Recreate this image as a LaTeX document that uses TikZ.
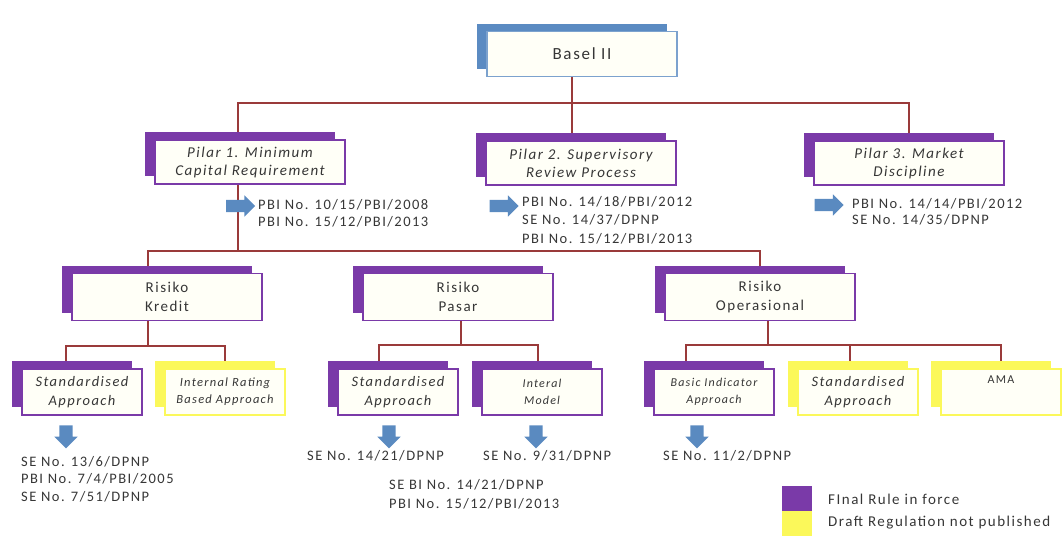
\documentclass[tikz,border=0pt]{standalone}
\usepackage{fontspec}
\setmainfont{Carlito}[LetterSpace=10]
\usetikzlibrary{shadows,shapes.arrows,backgrounds}
\definecolor{finalpurple}{HTML}{7A3AA8}
\definecolor{draftyellow}{HTML}{FBF85A}
\definecolor{baselblue}{HTML}{5B8BC2}
\definecolor{arrowblue}{HTML}{5A8AC0}
\definecolor{linkred}{HTML}{9A3A3A}
\definecolor{boxfill}{HTML}{FFFFF7}
\definecolor{inkgray}{HTML}{363636}
\begin{document}
\begin{tikzpicture}[x=1pt,y=-1pt,
		rulebox/.style={draw=#1, line width=1.6pt, fill=boxfill, align=center, text=inkgray,
			inner sep=0pt, copy shadow={shadow xshift=-10pt, shadow yshift=8pt, fill=#1, draw=none}},
		bigbox/.style={rulebox=#1, minimum width=190pt, minimum height=45pt},
		smallbox/.style={rulebox=#1, minimum width=120pt, minimum height=46pt},
		link/.style={draw=linkred, line width=1.8pt},
		rarrow/.style={single arrow, fill=arrowblue, draw=none, inner sep=6pt,
			minimum height=29pt, minimum width=21pt, single arrow head extend=4.5pt},
		darrow/.style={rarrow, shape border rotate=270, inner sep=6.5pt, minimum height=23pt,
			minimum width=23pt, single arrow head extend=5pt},
		reflist/.style={anchor=north west, inner sep=0pt, align=left, text=inkgray,
			font=\fontsize{14.5}{17.5}\selectfont},
		legendkey/.style={minimum width=30pt, minimum height=25pt, inner sep=0pt, draw=none}]
		\useasboundingbox (0,0) rectangle (1062,552);
		% boxes
		\node[bigbox=baselblue, draw=baselblue!80, font=\fontsize{17}{20}\selectfont] (basel) at (582,54) {Basel II};
		\node[bigbox=finalpurple, minimum height=44pt, font=\fontsize{15}{18}\selectfont\itshape] (p1) at (250,162) {Pilar 1. Minimum\\Capital Requirement};
		\node[bigbox=finalpurple, minimum height=44pt, font=\fontsize{15}{18}\selectfont\itshape] (p2) at (581,163) {Pilar 2. Supervisory\\Review Process};
		\node[bigbox=finalpurple, minimum height=44pt, font=\fontsize{15}{18}\selectfont\itshape] (p3) at (909,163) {Pilar 3. Market\\Discipline};
		\node[bigbox=finalpurple, minimum height=47pt, font=\fontsize{15}{19}\selectfont] (rk) at (167,297) {Risiko\\Kredit};
		\node[bigbox=finalpurple, minimum height=47pt, font=\fontsize{15}{19}\selectfont] (rp) at (458,297) {Risiko\\Pasar};
		\node[bigbox=finalpurple, minimum height=47pt, font=\fontsize{15}{19}\selectfont] (ro) at (760,297) {Risiko\\Operasional};
		\node[smallbox=finalpurple, font=\fontsize{14.5}{19}\selectfont\itshape] (sa1) at (82,392) {Standardised\\Approach};
		\node[smallbox=draftyellow, font=\fontsize{12.5}{17}\selectfont\itshape] (irb) at (225,392) {Internal Rating\\Based Approach};
		\node[smallbox=finalpurple, font=\fontsize{14.5}{19}\selectfont\itshape] (sa2) at (398,392) {Standardised\\Approach};
		\node[smallbox=finalpurple, font=\fontsize{12}{17}\selectfont\itshape] (im) at (542,392) {Interal\\Model};
		\node[smallbox=finalpurple, font=\fontsize{12}{17}\selectfont\itshape] (bia) at (714,392) {Basic Indicator\\Approach};
		\node[smallbox=draftyellow, font=\fontsize{14.5}{19}\selectfont\itshape] (sa3) at (858,392) {Standardised\\Approach};
		\node[smallbox=draftyellow, font=\fontsize{12}{17}\selectfont] (ama) at (1001,392) {AMA\\[8pt]};
		% connectors
		\begin{scope}[on background layer]
		\draw[link] ([xshift=-10pt]basel.south) -- ++(0,26) -| ([xshift=-12pt]p1.north);
		\draw[link] ([xshift=-10pt]basel.south) -- ++(0,26) -| (p3.north);
		\draw[link] ([xshift=-10pt]basel.south) -- ([xshift=-9pt]p2.north);
		\draw[link] ([xshift=-12pt]p1.south) -- ++(0,66) -| ([xshift=-19pt]rk.north);
		\draw[link] ([xshift=-12pt]p1.south) -- ++(0,66) -| (ro.north);
		\draw[link] ([xshift=-19pt]rk.south) -- ++(0,25) -| ([xshift=-16pt]sa1.north);
		\draw[link] ([xshift=-19pt]rk.south) -- ++(0,25) -| (irb.north);
		\draw[link] ([xshift=3pt]rp.south) -- ++(0,24) -| ([xshift=-19pt]sa2.north);
		\draw[link] ([xshift=3pt]rp.south) -- ++(0,24) -| ([xshift=-4pt]im.north);
		\draw[link] ([xshift=8pt]ro.south) -- ++(0,24) -| ([xshift=-28pt]bia.north);
		\draw[link] ([xshift=8pt]ro.south) -- ++(0,24) -| ([xshift=-8pt]sa3.north);
		\draw[link] ([xshift=8pt]ro.south) -- ++(0,24) -| (ama.north);
		\end{scope}
		% regulations
		\node[rarrow] (a1) at (237.5,206) {};
		\node[reflist] (r1) at (258,199) {PBI No. 10/15/PBI/2008\\PBI No. 15/12/PBI/2013};
		\node[rarrow] (a2) at (501,206) {};
		\node[reflist, font=\fontsize{14.5}{18.5}\selectfont] (r2) at (522,196) {PBI No. 14/18/PBI/2012\\SE No. 14/37/DPNP\\PBI No. 15/12/PBI/2013};
		\node[rarrow] (a3) at (826,205) {};
		\node[reflist, font=\fontsize{14.5}{16}\selectfont] (r3) at (852,198) {PBI No. 14/14/PBI/2012\\SE No. 14/35/DPNP};
		\node[darrow] (d1) at (66,433.5) {};
		\node[reflist] (r4) at (21,456) {SE No. 13/6/DPNP\\PBI No. 7/4/PBI/2005\\SE No. 7/51/DPNP};
		\node[darrow] (d2) at (389,433.5) {};
		\node[reflist] (r5) at (307,450) {SE No. 14/21/DPNP};
		\node[darrow] (d3) at (536,433.5) {};
		\node[reflist] (r6) at (483,450) {SE No. 9/31/DPNP};
		\node[reflist, font=\fontsize{14.5}{19}\selectfont] (r7) at (389,479) {SE BI No. 14/21/DPNP\\PBI No. 15/12/PBI/2013};
		\node[darrow] (d4) at (697,433.5) {};
		\node[reflist] (r8) at (663,450) {SE No. 11/2/DPNP};
		% legend
		\node[legendkey, fill=finalpurple] (kfinal) at (797,498.5) {};
		\node[legendkey, fill=draftyellow] (kdraft) at (797,523.5) {};
		\node[reflist, anchor=west, font=\fontsize{15}{18}\selectfont] (lfinal) at (828,499) {FInal Rule in force};
		\node[reflist, anchor=west, font=\fontsize{15}{18}\selectfont] (ldraft) at (828,523) {Draft Regulation not published};
\end{tikzpicture}
\end{document}
